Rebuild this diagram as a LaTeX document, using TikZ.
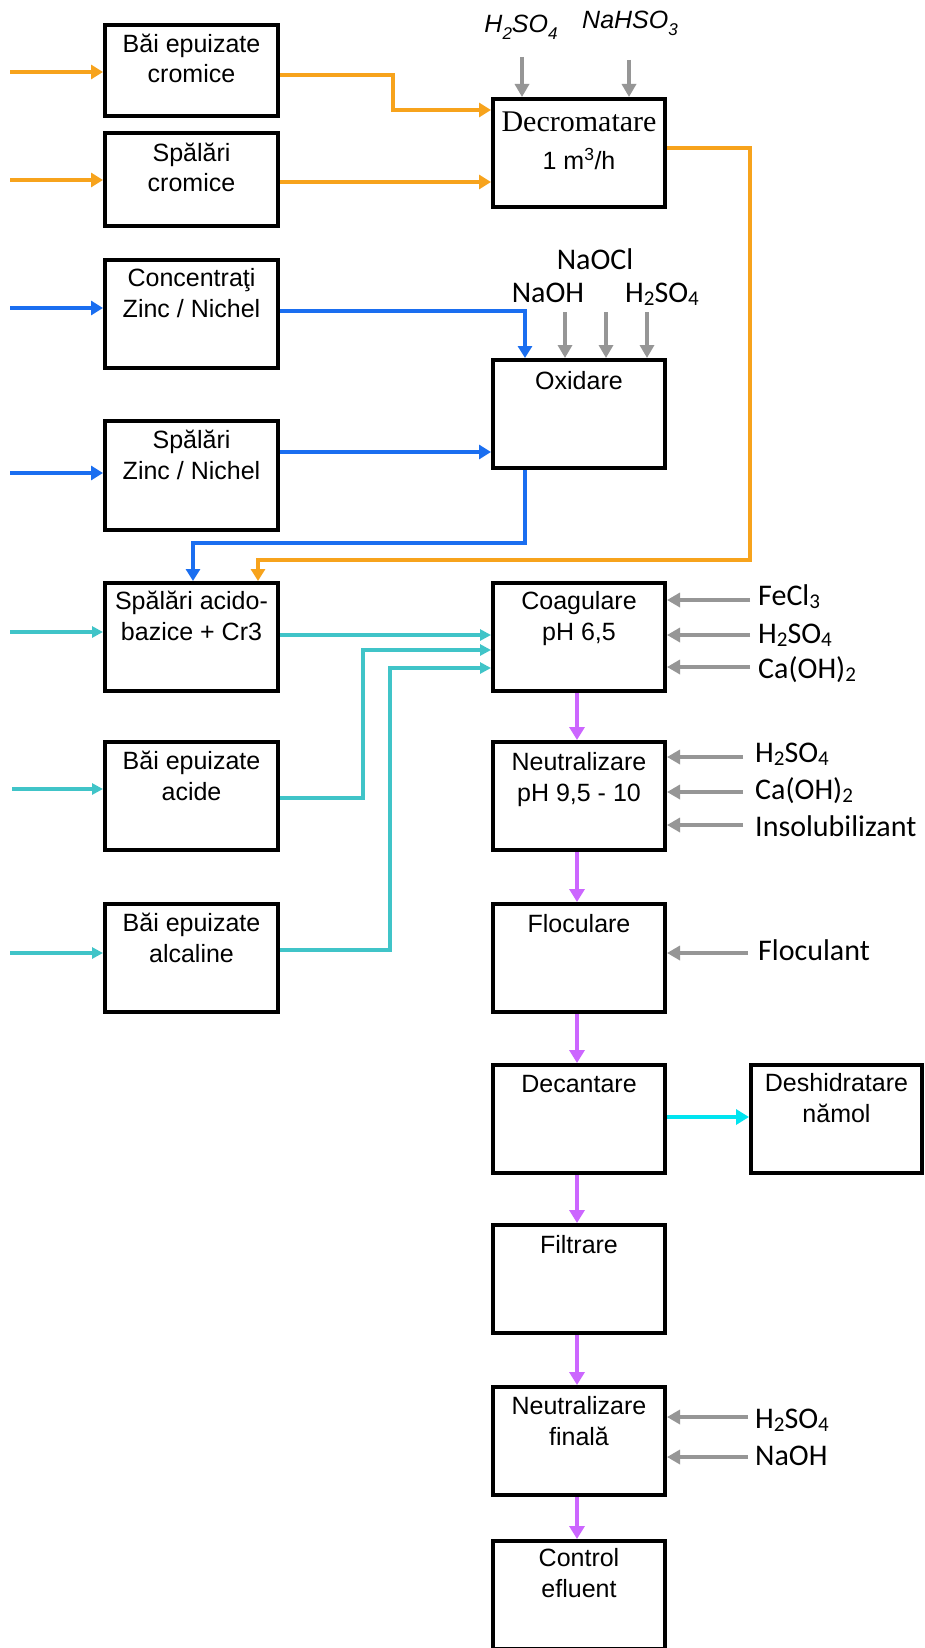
\documentclass[tikz,border=0pt]{standalone}
\usepackage{fontspec}
\setmainfont{Liberation Sans}
\newfontfamily\carl{Carlito}
\newfontfamily\tms{Liberation Serif}
\usetikzlibrary{arrows.meta}
\definecolor{corange}{RGB}{247,163,28}
\definecolor{cblue}{RGB}{26,110,240}
\definecolor{cteal}{RGB}{64,196,200}
\definecolor{cpurple}{RGB}{204,102,255}
\definecolor{ccyan}{RGB}{0,228,240}
\definecolor{cgrey}{RGB}{150,150,150}
\newcommand{\csub}[1]{\raisebox{-3.5pt}{\fontsize{21}{21}\selectfont #1}}
\newcommand{\isub}[1]{\raisebox{-7pt}{\fontsize{17}{17}\selectfont #1}}
\begin{document}
\begin{tikzpicture}[x=1pt,y=-1pt,
 lbox/.style={draw=black,line width=4pt,minimum width=173pt,minimum height=#1,inner sep=0pt,anchor=north west},
 lbox/.default=108pt,
 rbox/.style={draw=black,line width=4pt,minimum width=172pt,minimum height=108pt,inner sep=0pt,anchor=north west},
 txt/.style={font=\fontsize{25}{30.5}\selectfont,align=center,anchor=base,inner sep=0pt},
 lab/.style={font=\carl\fontsize{30}{36}\selectfont,anchor=base west,inner sep=0pt},
 tlab/.style={font=\carl\fontsize{30}{36}\selectfont,anchor=base,inner sep=0pt},
 ilab/.style={font=\itshape\fontsize{25}{30}\selectfont,anchor=base,inner sep=0pt},
 oc/.style={line width=3.5pt,draw=corange,-{Triangle[length=12pt,width=14pt]}},
 bc/.style={line width=3.5pt,draw=cblue,-{Triangle[length=12pt,width=14pt]}},
 tc/.style={line width=3.5pt,draw=cteal,-{Triangle[length=11pt,width=11pt]}},
 pc/.style={line width=3.5pt,draw=cpurple,-{Triangle[length=13pt,width=15pt]}},
 cc/.style={line width=3.5pt,draw=ccyan,-{Triangle[length=13pt,width=15pt]}},
 gc/.style={line width=3.5pt,draw=cgrey,-{Triangle[length=13pt,width=14pt]}},
]
\clip (0,0) rectangle (925,1648);
\fill[white] (0,0) rectangle (925,1648);

% left column boxes
\node[lbox=91pt] (bec) at (103,23) {};
\node[lbox=93pt] (spc) at (103,131) {};
\node[lbox] (cz) at (103,258) {};
\node[lbox=109pt] (sz) at (103,419) {};
\node[lbox] (sab) at (103,581) {};
\node[lbox] (bac) at (103,740) {};
\node[lbox] (bal) at (103,902) {};

% right column boxes
\node[rbox] (dec) at (491,97) {};
\node[rbox] (oxi) at (491,358) {};
\node[rbox] (coa) at (491,581) {};
\node[rbox] (neu) at (491,740) {};
\node[rbox] (flo) at (491,902) {};
\node[rbox] (dcn) at (491,1063) {};
\node[rbox,minimum width=171pt] (des) at (749,1063) {};
\node[rbox] (fil) at (491,1223) {};
\node[rbox] (nf) at (491,1385) {};
\node[rbox] (ctl) at (491,1539) {};

% box texts (base anchor = last line)
\node[txt] (bec-t) at ([yshift=-60pt]bec.north) {Băi epuizate\\cromice};
\node[txt] (spc-t) at ([yshift=-61pt]spc.north) {Spălări\\cromice};
\node[txt] (cz-t) at ([yshift=-59pt]cz.north) {Concentraţi\\Zinc / Nichel};
\node[txt] (sz-t) at ([yshift=-60pt]sz.north) {Spălări\\Zinc / Nichel};
\node[txt] (sab-t) at ([yshift=-59pt]sab.north) {Spălări acido-\\bazice + Cr3};
\node[txt] (bac-t) at ([yshift=-60pt]bac.north) {Băi epuizate\\acide};
\node[txt] (bal-t) at ([yshift=-60pt]bal.north) {Băi epuizate\\alcaline};
\node[inner sep=0pt,anchor=base,font=\tms\fontsize{30}{36}\selectfont] (dec-t) at ([yshift=-35pt]dec.north) {Decromatare};
\node[txt] (dec-u) at ([yshift=-73pt]dec.north) {1 m\textsuperscript{3}/h};
\node[txt] (oxi-t) at ([yshift=-31pt]oxi.north) {Oxidare};
\node[txt] (coa-t) at ([yshift=-59pt]coa.north) {Coagulare\\pH 6,5};
\node[txt] (neu-t) at ([yshift=-61pt]neu.north) {Neutralizare\\pH 9,5 - 10};
\node[txt] (flo-t) at ([yshift=-30pt]flo.north) {Floculare};
\node[txt] (dcn-t) at ([yshift=-29pt]dcn.north) {Decantare};
\node[txt] (des-t) at ([yshift=-59pt]des.north) {Deshidratare\\nămol};
\node[txt] (fil-t) at ([yshift=-30pt]fil.north) {Filtrare};
\node[txt] (nf-t) at ([yshift=-60pt]nf.north) {Neutralizare\\finală};
\node[txt] (ctl-t) at ([yshift=-58pt]ctl.north) {Control\\efluent};

% chemical labels
\node[ilab] (d-h2so4) at (521,33) {H\isub{2}SO\isub{4}};
\node[ilab] (d-nahso3) at (630,29) {NaHSO\isub{3}};
\node[tlab] (o-naocl) at (595,269) {NaOCl};
\node[tlab] (o-naoh) at (548,302) {NaOH};
\node[tlab] (o-h2so4) at (662,302) {H\csub{2}SO\csub{4}};
\node[lab] (c-fecl3) at (758,605) {FeCl\csub{3}};
\node[lab] (c-h2so4) at (758,643) {H\csub{2}SO\csub{4}};
\node[lab] (c-caoh) at (758,678) {Ca(OH)\csub{2}};
\node[lab] (n-h2so4) at (755,762) {H\csub{2}SO\csub{4}};
\node[lab] (n-caoh) at (755,799) {Ca(OH)\csub{2}};
\node[lab] (n-ins) at (755,836) {Insolubilizant};
\node[lab] (f-floc) at (758,960) {Floculant};
\node[lab] (nf-h2so4) at (755,1428) {H\csub{2}SO\csub{4}};
\node[lab] (nf-naoh) at (755,1465) {NaOH};

% free ends
\coordinate (in1) at (10,72);
\coordinate (in2) at (10,180);
\coordinate (in3) at (10,308);
\coordinate (in4) at (10,473);
\coordinate (in5) at (10,632);
\coordinate (in6) at (12,789);
\coordinate (in7) at (10,953);
\coordinate (g1) at (522,57);
\coordinate (g2) at (629,60);
\coordinate (g3) at (565,312);
\coordinate (g4) at (606,312);
\coordinate (g5) at (647,312);
\coordinate (g6) at (750,600);
\coordinate (g7) at (750,635);
\coordinate (g8) at (750,667);
\coordinate (g9) at (743,757);
\coordinate (g10) at (743,792);
\coordinate (g11) at (743,825);
\coordinate (g12) at (748,953);
\coordinate (g13) at (748,1417);
\coordinate (g14) at (748,1457);

% inputs
\draw[oc] (in1) -- (in1 -| bec.west);
\draw[oc] (in2) -- (in2 -| spc.west);
\draw[bc] (in3) -- (in3 -| cz.west);
\draw[bc] (in4) -- (in4 -| sz.west);
\draw[tc] (in5) -- (in5 -| sab.west);
\draw[tc] (in6) -- (in6 -| bac.west);
\draw[tc] (in7) -- (in7 -| bal.west);

% orange
\draw[oc] (bec.east |- 0,75) -| (393,110) -- (dec.west |- 0,110);
\draw[oc] (spc.east |- 0,182) -- (dec.west |- 0,182);
\draw[oc] (dec.east |- 0,148) -| (750,560) -| (sab.north -| 258,0);

% blue
\draw[bc] (cz.east |- 0,311) -| (oxi.north -| 525,0);
\draw[bc] (sz.east |- 0,452) -- (oxi.west |- 0,452);
\draw[bc] (oxi.south -| 525,0) -- (525,543) -| (sab.north -| 193,0);

% teal
\draw[tc] (sab.east |- 0,635) -- (coa.west |- 0,635);
\draw[tc] (bac.east |- 0,798) -| (363,650) -- (coa.west |- 0,650);
\draw[tc] (bal.east |- 0,950) -| (390,668) -- (coa.west |- 0,668);

% purple
\draw[pc] (coa.south -| 577,0) -- (neu.north -| 577,0);
\draw[pc] (neu.south -| 577,0) -- (flo.north -| 577,0);
\draw[pc] (flo.south -| 577,0) -- (dcn.north -| 577,0);
\draw[pc] (dcn.south -| 577,0) -- (fil.north -| 577,0);
\draw[pc] (fil.south -| 577,0) -- (nf.north -| 577,0);
\draw[pc] (nf.south -| 577,0) -- (ctl.north -| 577,0);

% cyan
\draw[cc] (dcn.east |- 0,1117) -- (des.west |- 0,1117);

% grey
\draw[gc] (g1) -- (g1 |- dec.north);
\draw[gc] (g2) -- (g2 |- dec.north);
\draw[gc] (g3) -- (g3 |- oxi.north);
\draw[gc] (g4) -- (g4 |- oxi.north);
\draw[gc] (g5) -- (g5 |- oxi.north);
\draw[gc] (g6) -- (g6 -| coa.east);
\draw[gc] (g7) -- (g7 -| coa.east);
\draw[gc] (g8) -- (g8 -| coa.east);
\draw[gc] (g9) -- (g9 -| neu.east);
\draw[gc] (g10) -- (g10 -| neu.east);
\draw[gc] (g11) -- (g11 -| neu.east);
\draw[gc] (g12) -- (g12 -| flo.east);
\draw[gc] (g13) -- (g13 -| nf.east);
\draw[gc] (g14) -- (g14 -| nf.east);
\end{tikzpicture}
\end{document}
